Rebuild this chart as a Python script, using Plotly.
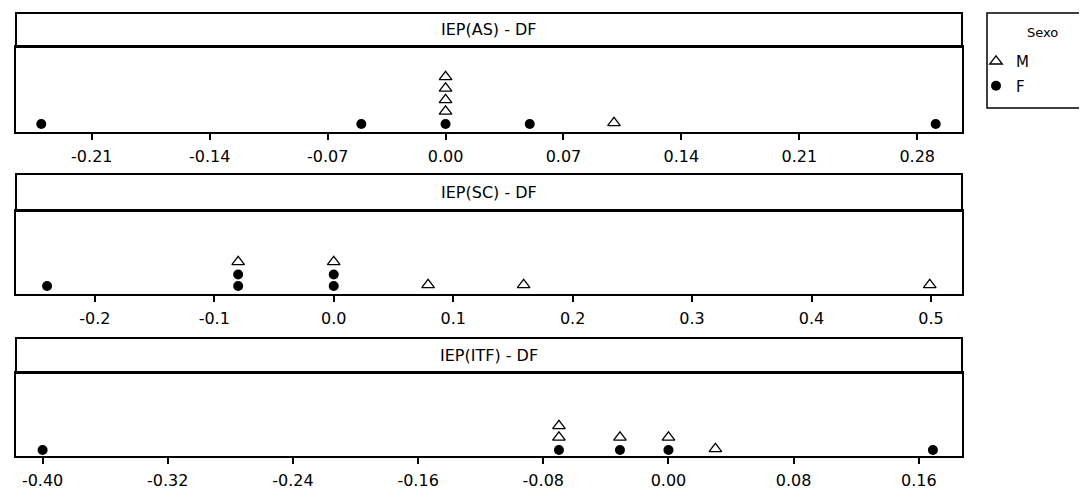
import plotly.graph_objects as go

# the page body has an 8px margin, so the figure is shifted by it
OFF = 8
W, H = 1087 - OFF, 500 - OFF

# ---------------- data ----------------
panel_titles = ["IEP(AS) - DF", "IEP(SC) - DF", "IEP(ITF) - DF"]
legend_title = "Sexo"

f_as = [-0.240, -0.050, 0.000, 0.050, 0.291]
m_as = [0.000, 0.000, 0.000, 0.000, 0.100]

f_sc = [-0.240, -0.080, -0.080, 0.000, 0.000]
m_sc = [-0.080, 0.000, 0.079, 0.159, 0.499]

f_itf = [-0.400, -0.070, -0.031, 0.000, 0.169]
m_itf = [-0.070, -0.070, -0.031, 0.000, 0.030]

ticks_as = [-0.21, -0.14, -0.07, 0.00, 0.07, 0.14, 0.21, 0.28]
ticks_sc = [-0.2, -0.1, 0.0, 0.1, 0.2, 0.3, 0.4, 0.5]
ticks_itf = [-0.40, -0.32, -0.24, -0.16, -0.08, 0.00, 0.08, 0.16]

tick_fmt = [".2f", ".1f", ".2f"]
x_ranges = [[-0.255, 0.3066], [-0.266, 0.526], [-0.417, 0.1876]]

panels = [
    (f_as, m_as, ticks_as),
    (f_sc, m_sc, ticks_sc),
    (f_itf, m_itf, ticks_itf),
]

# ---------------- layout geometry (page pixels) ----------------
X_LEFT, X_RIGHT = 16, 962
# (strip top, strip bottom / plot top, axis line)
PANEL_PX = [(13, 47, 132), (174, 211, 294), (338, 373, 456)]
BASE_PX = [8, 8, 6]  # height of first dot centre above axis
STEP_PX = 11.5       # pixel height of one stacked dot

FONT = "DejaVu Sans"


def px(x):
    return (x - OFF) / W


def py(y):
    return 1 - (y - OFF) / H


fig = go.Figure()


def stack(f_vals, m_vals):
    """Stack dots per bin: females first, then males."""
    counts = {}
    fy, my = [], []
    for v in f_vals:
        k = round(v, 3)
        fy.append(counts.get(k, 0))
        counts[k] = counts.get(k, 0) + 1
    for v in m_vals:
        k = round(v, 3)
        my.append(counts.get(k, 0))
        counts[k] = counts.get(k, 0) + 1
    return fy, my


layout_axes = {}
shapes = []
annotations = []

for i, ((fv, mv, ticks), title, (top, sbot, axis)) in enumerate(zip(panels, panel_titles, PANEL_PX)):
    n = i + 1
    xa = "x" if n == 1 else f"x{n}"
    ya = "y" if n == 1 else f"y{n}"
    fy, my = stack(fv, mv)

    fig.add_trace(go.Scatter(
        x=mv, y=[v + 0.1 for v in my], mode="markers", name="M",
        legendgroup="M", showlegend=(i == 0),
        marker=dict(symbol="triangle-up-open", size=11, color="black",
                    line=dict(width=1.3, color="black")),
        xaxis=xa, yaxis=ya, cliponaxis=False,
    ))
    fig.add_trace(go.Scatter(
        x=fv, y=fy, mode="markers", name="F",
        legendgroup="F", showlegend=(i == 0),
        marker=dict(symbol="circle", size=10, color="black"),
        xaxis=xa, yaxis=ya, cliponaxis=False,
    ))

    plot_h = axis - sbot
    y0 = -BASE_PX[i] / STEP_PX
    y1 = y0 + plot_h / STEP_PX

    layout_axes["xaxis" if n == 1 else f"xaxis{n}"] = dict(
        domain=[px(X_LEFT), px(X_RIGHT)],
        anchor=ya,
        range=x_ranges[i],
        tickmode="array",
        tickvals=ticks,
        ticktext=[format(t, tick_fmt[i]) for t in ticks],
        ticks="outside", ticklen=6, tickwidth=1.5, tickcolor="black",
        ticklabelstandoff=3,
        showline=True, mirror=True, linecolor="black", linewidth=2,
        showgrid=False, zeroline=False,
        tickfont=dict(family=FONT, size=16, color="black"),
    )
    layout_axes["yaxis" if n == 1 else f"yaxis{n}"] = dict(
        domain=[py(axis), py(sbot)],
        anchor=xa,
        range=[y0, y1],
        showticklabels=False, ticks="",
        showline=True, mirror=True, linecolor="black", linewidth=2,
        showgrid=False, zeroline=False,
    )

    # strip (panel header)
    shapes.append(dict(
        type="rect", xref="paper", yref="paper",
        x0=px(X_LEFT), x1=px(X_RIGHT),
        y0=py(sbot), y1=py(top),
        line=dict(color="black", width=2), fillcolor="white", layer="below",
    ))
    annotations.append(dict(
        text=title, xref="paper", yref="paper",
        x=px((X_LEFT + X_RIGHT) / 2), y=py((top + sbot) / 2),
        xanchor="center", yanchor="middle", showarrow=False,
        font=dict(family=FONT, size=16, color="black"),
    ))

# legend frame + its title
shapes.append(dict(
    type="rect", xref="paper", yref="paper",
    x0=px(987), x1=px(1082), y0=py(108), y1=py(13),
    line=dict(color="black", width=1.5), fillcolor="white", layer="below",
))
annotations.append(dict(
    text=legend_title, xref="paper", yref="paper",
    x=px(1042), y=py(33), xanchor="center", yanchor="middle",
    showarrow=False, font=dict(family=FONT, size=13, color="black"),
))

fig.update_layout(
    width=W, height=H,
    margin=dict(l=0, r=0, t=0, b=0),
    paper_bgcolor="white", plot_bgcolor="white",
    shapes=shapes, annotations=annotations,
    showlegend=True,
    legend=dict(
        x=px(976), y=py(45), xanchor="left", yanchor="top",
        font=dict(family=FONT, size=15, color="black"),
        bgcolor="rgba(0,0,0,0)", borderwidth=0,
        tracegroupgap=2, itemwidth=30,
    ),
    **layout_axes,
)

fig.write_html("out.html")
